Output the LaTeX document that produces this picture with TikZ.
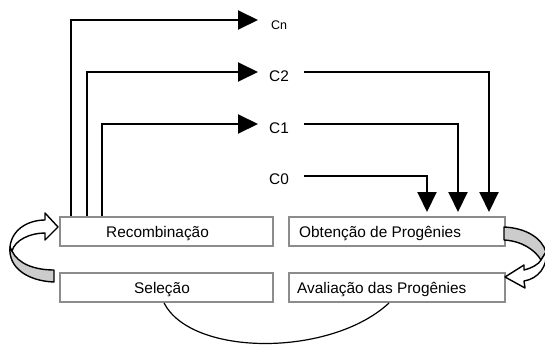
\documentclass[tikz,border=0pt]{standalone}
\usepackage{fontspec}
\setmainfont{Liberation Sans}
\usetikzlibrary{arrows.meta}
\definecolor{boxgray}{RGB}{140,140,140}
\definecolor{ribbon}{RGB}{204,204,204}
\begin{document}
\begin{tikzpicture}[x=1pt,y=-1pt,
  box/.style={draw=boxgray,line width=2pt,minimum width=213pt,minimum height=29pt,inner sep=0pt},
  wbox/.style={box,minimum width=216pt},
  txt/.style={inner sep=0pt,font=\fontsize{15.4}{18}\selectfont},
  lab/.style={inner sep=0pt,font=\fontsize{15.4}{18}\selectfont},
  smalllab/.style={inner sep=0pt,font=\fontsize{12.5}{15}\selectfont},
  conn/.style={line width=2pt,-{Triangle[length=20pt,width=19pt]}},
  blockarrow/.style={draw=black,line width=1.4pt,line join=round},
  loop/.style={line width=1.2pt}]
\useasboundingbox (0,0) rectangle (545,345);

% boxes
\node[box]  (rec) at (166.5,231.5) {};
\node[wbox] (obt) at (397,231.5) {};
\node[box]  (sel) at (166.5,287.5) {};
\node[wbox] (ava) at (397,287.5) {};

% box texts
\node[txt,anchor=base] (trec) at (157.5,237) {Recombinação};
\node[txt,anchor=base west] (tobt) at (299,237) {Obtenção de Progênies};
\node[txt,anchor=base] (tsel) at (162,293) {Seleção};
\node[txt,anchor=base west] (tava) at (297,293) {Avaliação das Progênies};

% labels
\node[smalllab,anchor=base west] (cn) at (271,30) {Cn};
\node[lab,anchor=base west] (c2) at (269,81) {C2};
\node[lab,anchor=base west] (c1) at (269,133) {C1};
\node[lab,anchor=base west] (c0) at (269,184) {C0};

% connector end points
\coordinate (ecn) at (258,20);
\coordinate (ec2) at (258,72);
\coordinate (ec1) at (258,124);
\coordinate (s2) at (304,72);
\coordinate (s1) at (304,124);
\coordinate (s0) at (304,176);

% from Recombinação up to the cycles
\draw[conn] ([xshift=12pt]rec.north west) |- (ecn);
\draw[conn] ([xshift=28pt]rec.north west) |- (ec2);
\draw[conn] ([xshift=43pt]rec.north west) |- (ec1);

% from the cycles down to Obtenção de Progênies
\draw[conn] (s0) -| ([xshift=139pt,yshift=4pt]obt.north west);
\draw[conn] (s1) -| ([xshift=170pt,yshift=4pt]obt.north west);
\draw[conn] (s2) -| ([xshift=201pt,yshift=4pt]obt.north west);

% lower curve
\draw[loop] ([xshift=105pt]sel.south west) .. controls +(28,54) and +(-58,54) .. ([xshift=101pt]ava.south west);

% left curved block arrow
\filldraw[blockarrow,fill=ribbon] (12,251) .. controls (18,264) and (35,270) .. (54,270) -- (54,282) .. controls (28,281) and (8,268) .. (10,247) -- cycle;
\filldraw[blockarrow,fill=white] (10,247) .. controls (12,228) and (30,220) .. (45,220) -- (45,213) -- (58,227) -- (45,240) -- (45,233) .. controls (30,233) and (15,240) .. (12,251) -- cycle;

% right curved block arrow
\filldraw[blockarrow,fill=ribbon] (504,227) .. controls (526,228) and (542,238) .. (546,252) -- (541,260) .. controls (535,250) and (522,241) .. (504,240) -- cycle;
\filldraw[blockarrow,fill=white] (546,252) .. controls (548,266) and (538,279) .. (524,281) -- (525,288) -- (505,277) -- (524,265) -- (524,270) .. controls (532,268) and (539,264) .. (541,260) -- cycle;
\end{tikzpicture}
\end{document}
